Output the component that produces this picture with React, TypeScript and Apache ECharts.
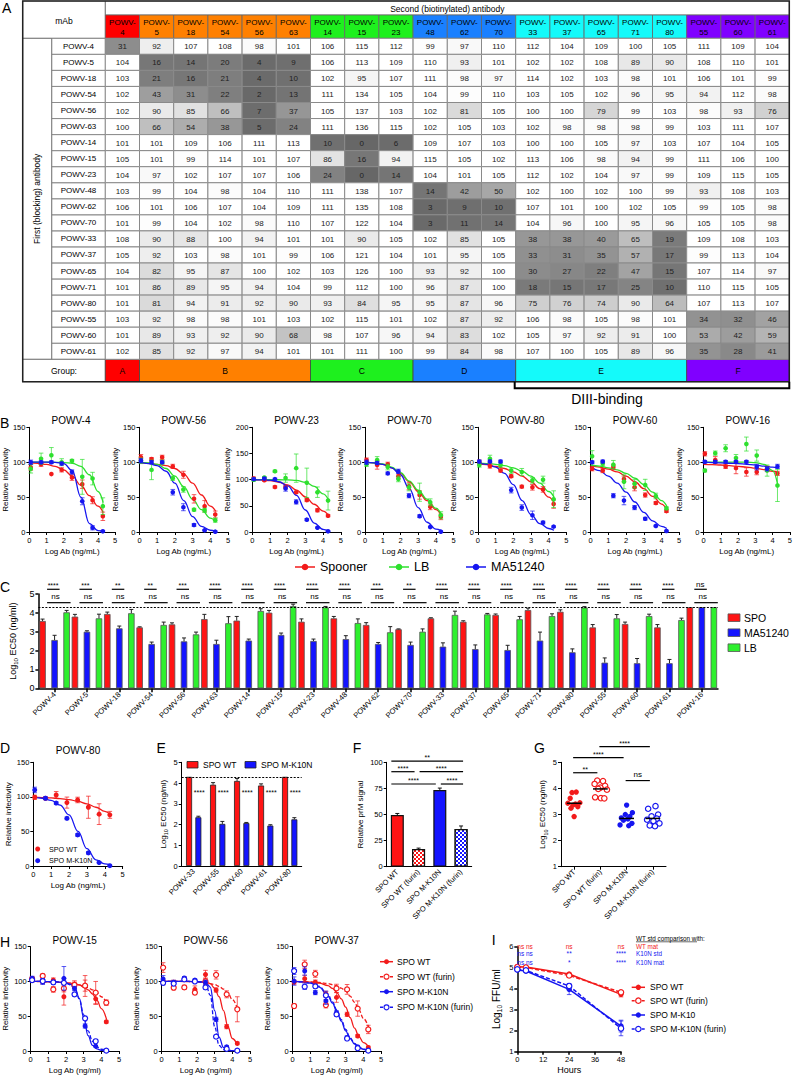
import React, { useEffect, useRef } from 'react';
import * as echarts from 'echarts';

const FONT = '"Liberation Sans", Arial, Helvetica, sans-serif';
const RED = '#f21b1b';
const GREEN = '#2ee02e';
const BLUE = '#1616f0';

/* ---------------- Panel A ---------------- */
const COL_MABS = ['4', '5', '18', '54', '56', '63', '14', '15', '23', '48', '62', '70', '33', '37', '65', '71', '80', '55', '60', '61'];
const ROW_MABS = ['POWV-4', 'POWV-5', 'POWV-18', 'POWV-54', 'POWV-56', 'POWV-63', 'POWV-14', 'POWV-15', 'POWV-23', 'POWV-48', 'POWV-62', 'POWV-70', 'POWV-33', 'POWV-37', 'POWV-65', 'POWV-71', 'POWV-80', 'POWV-55', 'POWV-60', 'POWV-61'];
const GROUP_NAMES = ['A', 'B', 'C', 'D', 'E', 'F'];
const GROUP_SPAN = [1, 5, 3, 3, 5, 3];
const GROUP_COLORS = ['#ff0000', '#ff8000', '#1ef01e', '#1a80ff', '#14fafa', '#8000ff'];
const COMPETITION = [
  [31, 92, 107, 108, 98, 101, 106, 115, 112, 99, 97, 110, 112, 104, 109, 100, 105, 111, 109, 104],
  [104, 16, 14, 20, 4, 9, 106, 113, 109, 110, 93, 101, 102, 102, 108, 89, 90, 108, 110, 101],
  [103, 21, 16, 21, 4, 10, 102, 95, 107, 111, 98, 97, 114, 102, 103, 98, 101, 106, 101, 99],
  [102, 43, 31, 22, 2, 13, 111, 134, 105, 104, 99, 110, 103, 105, 102, 96, 95, 94, 112, 98],
  [102, 90, 85, 66, 7, 37, 105, 137, 103, 102, 81, 105, 100, 100, 79, 99, 103, 98, 93, 76],
  [100, 66, 54, 38, 5, 24, 111, 136, 115, 102, 105, 103, 102, 98, 98, 98, 99, 103, 111, 107],
  [101, 101, 109, 106, 111, 113, 10, 0, 6, 109, 107, 103, 100, 100, 105, 97, 103, 107, 104, 105],
  [105, 101, 99, 114, 101, 107, 86, 16, 94, 115, 105, 102, 113, 106, 98, 94, 99, 111, 106, 100],
  [104, 97, 102, 107, 107, 106, 24, 0, 14, 104, 101, 105, 112, 102, 104, 97, 99, 109, 115, 105],
  [103, 99, 104, 98, 104, 110, 111, 138, 107, 14, 42, 50, 102, 100, 102, 100, 99, 93, 108, 103],
  [106, 101, 106, 107, 104, 109, 111, 135, 108, 3, 9, 10, 107, 101, 100, 102, 105, 99, 105, 98],
  [101, 99, 104, 102, 98, 110, 107, 122, 104, 3, 11, 14, 104, 96, 100, 95, 96, 105, 105, 98],
  [108, 90, 88, 100, 94, 101, 101, 90, 105, 102, 85, 105, 38, 38, 40, 65, 19, 109, 108, 103],
  [105, 92, 103, 98, 101, 99, 106, 121, 104, 101, 95, 105, 33, 31, 35, 57, 17, 99, 113, 104],
  [104, 82, 95, 87, 100, 102, 103, 126, 100, 93, 92, 100, 30, 27, 22, 47, 15, 107, 114, 97],
  [101, 86, 89, 95, 94, 104, 99, 112, 100, 96, 87, 100, 18, 15, 17, 25, 10, 110, 115, 105],
  [101, 81, 94, 91, 92, 90, 93, 84, 95, 95, 87, 96, 75, 76, 74, 90, 64, 107, 113, 107],
  [103, 92, 98, 98, 101, 103, 102, 115, 101, 102, 87, 92, 106, 98, 105, 98, 101, 34, 32, 46],
  [101, 89, 93, 92, 90, 68, 98, 107, 96, 94, 83, 102, 105, 97, 92, 91, 100, 53, 42, 59],
  [102, 85, 92, 97, 94, 101, 101, 111, 100, 99, 84, 98, 107, 100, 105, 89, 96, 35, 28, 41],
];

/* ---------------- Panel B ---------------- */
const DOSE_X = [0.08, 0.68, 1.28, 1.88, 2.48, 3.08, 3.68, 4.28];
const FIT_X = [0, 0.5, 1, 1.5, 2, 2.5, 3, 3.5, 4, 4.3];
const B_TITLES = ['POWV-4', 'POWV-56', 'POWV-23', 'POWV-70', 'POWV-80', 'POWV-60', 'POWV-16'];
const B_YMAX = [150, 150, 200, 150, 150, 150, 150];
const B_SPOONER = [
  [92.5, 97, 83, 89, 78, 68.5, 45.5, 22.5],
  [107, 104.5, 107, 94, 82, 47.5, 37, 25],
  [102, 99, 86, 86, 76, 61, 41.5, 31],
  [103, 96, 97, 80, 65.6, 53, 36, 21.7],
  [100, 94.5, 88, 80, 65, 64, 61, 40],
  [90.6, 88, 93, 76, 64, 53, 41.5, 30],
  [112, 103, 94, 91.5, 86, 86, 90.5, 84],
];
const B_SPOONER_ERR = [
  [4, 3, 0, 3, 4, 6, 5, 6], [4, 2, 3, 3, 5, 6, 8, 5], [3, 2, 2, 2, 2, 3, 3, 2], [3, 6, 3, 3, 5, 6, 4, 4],
  [3, 3, 2, 2, 2, 4, 4, 6], [3, 3, 3, 4, 5, 3, 2, 2], [3, 5, 3, 8, 6, 4, 4, 3],
];
const B_SPOONER_FIT = [
  [99, 98.5, 97, 94, 89, 80, 67, 52, 37, 28],
  [99, 98.5, 97, 95, 91, 83, 70, 53, 37, 30],
  [100, 99.5, 98, 95, 90, 80, 67, 53, 40, 32],
  [100, 99, 97, 92, 84, 72, 58, 45, 32, 24],
  [98, 96.5, 94, 91, 86, 80, 72, 62, 50, 42],
  [95, 93, 90, 86, 80, 72, 62, 51, 40, 32],
  [97, 96.5, 96, 95, 94, 93, 91.5, 89.5, 87, 85],
];
const B_LB = [
  [90.5, 105, 110, 100, 102, 79, 76.5, 37],
  [102, 89, 100, 77, 61, 32, 31, 17],
  [100, 104, 116, 103, 122, 94, 76, 60],
  [97, 103, 93, 76, 64, 57, 42.5, 24],
  [96, 105, 96, 88, 86, 74, 75, 47],
  [108.5, 98, 96.5, 72, 69, 67.5, 51.6, 34],
  [88, 113, 120, 106, 126, 109.5, 88, 66.7],
];
const B_LB_ERR = [
  [6, 8, 11, 5, 2, 25, 9, 12], [4, 14, 3, 3, 4, 2, 3, 3], [3, 2, 2, 8, 27, 28, 10, 18], [3, 5, 4, 4, 5, 13, 5, 5],
  [3, 5, 3, 4, 5, 4, 5, 12], [8, 3, 6, 10, 6, 8, 4, 2], [2, 3, 5, 5, 10, 8, 8, 23],
];
const B_LB_FIT = [
  [100, 100, 100, 99.8, 99.5, 98.5, 94, 82, 58, 42],
  [100, 99, 97, 91, 80, 65, 47, 32, 20, 15],
  [100, 100, 100, 99.8, 99.5, 98.5, 95, 87, 73, 62],
  [100, 99, 97.5, 93, 85, 73, 60, 47, 34, 26],
  [99, 98, 97, 95, 92, 87, 80, 70, 58, 50],
  [96, 94.5, 92, 89, 84, 77, 68, 57, 45, 37],
  [100, 100, 100, 100, 100, 100, 99.5, 97, 88, 67],
];
const B_MA = [
  [100, 100, 100, 98, 86, 44, 6, 1],
  [102, 100, 100, 57, 35.5, 10, 2.4, 0.5],
  [101, 102, 101, 83, 57.5, 23.6, 8.3, 1.3],
  [100, 99, 84, 87, 52, 22.7, 7, 0.5],
  [101, 101, 101, 60, 35, 24, 13.5, 7.7],
  [100, 101, 52, 45, 35, 19, 8.7, 1.4],
  [100.5, 100.5, 100.5, 100.5, 100.5, 93, 90.5, 94],
];
const B_MA_ERR = [
  [3, 2, 2, 2, 3, 5, 3, 1], [3, 2, 2, 4, 5, 2, 1, 1], [2, 2, 2, 5, 4, 2, 1, 1], [3, 2, 2, 3, 3, 2, 1, 1],
  [2, 2, 2, 4, 4, 6, 2, 1], [2, 2, 3, 6, 3, 2, 1, 1], [2, 2, 2, 2, 2, 4, 3, 3],
];
const B_MA_FIT = [
  [100, 100, 100, 99.8, 98, 88, 50, 12, 2, 0.5],
  [100, 98, 95, 87, 70, 45, 22, 8, 2.5, 1],
  [100, 99.5, 99, 96, 88, 70, 42, 17, 5, 2],
  [100, 99, 97, 92, 82, 62, 35, 14, 4, 2],
  [99, 97, 93, 84, 68, 45, 25, 12, 5, 2.5],
  [94, 88, 80, 70, 57, 43, 28, 16, 8, 5],
  [100, 99.5, 99, 98.5, 98, 97, 96, 94.5, 93, 92],
];

/* ---------------- Panel C ---------------- */
const C_CATS = ['POWV-4', 'POWV-5', 'POWV-18', 'POWV-54', 'POWV-56', 'POWV-63', 'POWV-14', 'POWV-15', 'POWV-23', 'POWV-48', 'POWV-62', 'POWV-70', 'POWV-33', 'POWV-37', 'POWV-65', 'POWV-71', 'POWV-80', 'POWV-55', 'POWV-60', 'POWV-61', 'POWV-16'];
const C_SPO = [3.57, 3.80, 3.94, 3.23, 3.39, 3.67, 3.59, 4.01, 3.53, 3.71, 3.36, 3.13, 3.71, 3.53, 3.89, 4.15, 4.06, 3.23, 3.41, 3.23, 4.30];
const C_MA = [2.56, 3.00, 3.18, 2.35, 2.49, 2.35, 2.53, 2.83, 2.51, 2.61, 2.35, 2.30, 2.21, 2.08, 2.03, 2.53, 1.91, 1.36, 1.33, 1.33, 4.30];
const C_LB = [4.03, 3.71, 3.98, 3.36, 2.86, 3.45, 4.10, 4.36, 4.29, 3.46, 2.97, 3.00, 3.89, 3.92, 3.66, 3.83, 4.28, 3.71, 3.83, 3.62, 4.30];
const C_SPO_ERR = [0.1, 0.12, 0.1, 0.03, 0.08, 0.25, 0.22, 0.12, 0.15, 0.1, 0.12, 0.02, 0.03, 0.05, 0.05, 0.1, 0.1, 0.15, 0.1, 0.15, 0];
const C_MA_ERR = [0.25, 0.05, 0.12, 0.1, 0.18, 0.2, 0.08, 0.1, 0.1, 0.18, 0.08, 0.15, 0.2, 0.22, 0.25, 0.45, 0.18, 0.25, 0.25, 0.2, 0];
const C_LB_ERR = [0.1, 0.22, 0.2, 0.15, 0.12, 0.35, 0.12, 0.1, 0.05, 0.22, 0.3, 0.15, 0.2, 0.05, 0.15, 0.12, 0.05, 0.2, 0.1, 0.1, 0];
const C_SIG_MA = ['****', '***', '**', '**', '***', '****', '****', '****', '****', '****', '***', '**', '****', '****', '****', '****', '****', '****', '****', '****', 'ns'];
const C_SIG_LB = ['ns', 'ns', 'ns', 'ns', 'ns', 'ns', 'ns', 'ns', 'ns', 'ns', 'ns', 'ns', 'ns', 'ns', 'ns', 'ns', 'ns', 'ns', 'ns', 'ns', 'ns'];
const C_LIMIT = 4.3;

/* ---------------- Panel D ---------------- */
const D_WT = [99.4, 98, 102.7, 91.7, 95.5, 85, 75, 74];
const D_WT_ERR = [3, 2, 5, 8, 4, 16, 15, 5];
const D_WT_FIT = [99.5, 99, 98.5, 97.5, 96, 93.5, 90, 85, 79, 75];
const D_K10N = [110, 98, 91, 69, 45, 19, 5, 0.5];
const D_K10N_ERR = [4, 2, 2, 2, 2, 2, 1, 1];
const D_K10N_FIT = [99.5, 98, 95, 88, 74, 50, 25, 9, 3, 1.5];

/* ---------------- Panel E ---------------- */
const E_CATS = ['POWV-33', 'POWV-55', 'POWV-60', 'POWV-61', 'POWV-80'];
const E_WT = [4.3, 3.92, 4.1, 3.88, 4.3];
const E_WT_ERR = [0, 0.1, 0.12, 0.08, 0];
const E_K10N = [2.35, 2.03, 2.07, 1.95, 2.25];
const E_K10N_ERR = [0.05, 0.12, 0.03, 0.04, 0.08];
const E_SIG = ['****', '****', '****', '****', '****'];

/* ---------------- Panel F ---------------- */
const FG_CATS = ['SPO WT', 'SPO WT (furin)', 'SPO M-K10N', 'SPO M-K10N (furin)'];
const F_VALUES = [49.5, 17, 73.5, 36];
const F_ERR = [1.5, 0.8, 1.8, 3];
const F_SIG_FROM = [0, 0, 1, 0, 2];
const F_SIG_TO = [3, 1, 3, 2, 3];
const F_SIG_Y = [101.2, 91, 91, 79.2, 79.2];
const F_SIG_TEXT = ['**', '****', '****', '****', '****'];

/* ---------------- Panel G ---------------- */
const G_WT = [3.86, 3.84, 3.62, 3.45, 3.43, 3.40, 3.36, 3.30, 3.24, 2.92];
const G_WT_JIT = [0.08, -0.08, -0.15, 0.22, -0.24, 0.05, -0.05, 0.14, -0.12, 0.0];
const G_WTF = [4.30, 4.28, 4.17, 4.10, 4.03, 3.98, 3.95, 3.66, 3.63, 3.62];
const G_WTF_JIT = [-0.12, 0.1, -0.22, 0.18, 0.0, -0.08, 0.25, -0.2, 0.02, 0.15];
const G_K = [3.36, 3.07, 3.0, 2.92, 2.87, 2.83, 2.78, 2.66, 2.60, 2.57];
const G_K_JIT = [0.0, 0.22, -0.05, 0.12, -0.2, 0.05, -0.12, 0.2, -0.25, 0.08];
const G_KF = [3.32, 3.22, 3.0, 2.93, 2.84, 2.80, 2.75, 2.66, 2.58, 2.55];
const G_KF_JIT = [0.1, -0.18, 0.2, -0.05, 0.15, -0.22, 0.02, 0.25, -0.12, 0.08];
const G_MEDIAN = [3.43, 3.98, 2.85, 2.85];
const G_SIG_FROM = [1, 0, 0, 2];
const G_SIG_TO = [3, 2, 1, 3];
const G_SIG_Y = [5.6, 5.18, 4.6, 4.3];
const G_SIG_TEXT = ['****', '****', '**', 'ns'];

/* ---------------- Panel H ---------------- */
const FIT_XH = [0, 0.5, 1, 1.5, 2, 2.25, 2.5, 2.75, 3, 3.25, 3.5, 3.75, 4, 4.3];
const H_TITLES = ['POWV-15', 'POWV-56', 'POWV-37'];
const H_WT = [[103.5, 99.7, 102, 78, 96, 93.5, 75, 42], [98.7, 98.7, 103.5, 88.6, 110, 87.7, 35, 11], [99, 104, 99, 82, 77, 52.7, 21.6, 5]];
const H_WT_ERR = [[3, 3, 3, 12, 5, 15, 8, 2], [3, 3, 3, 5, 6, 3, 3, 2], [3, 5, 3, 4, 7, 3, 2, 2]];
const H_WT_FIT = [
  [100, 100, 99.5, 99, 98, 97.5, 96.5, 95, 92, 88, 82, 73, 61, 45],
  [100, 100, 100, 100, 99.8, 99.5, 99, 97, 90, 78, 58, 35, 18, 8],
  [100, 99.8, 99, 97.5, 94, 90, 84, 75, 63, 48, 33, 21, 12, 6],
];
const H_WTF = [[103.5, 108, 88.6, 90, 95, 94, 84, 69.5], [120, 91, 91.5, 84, 100, 109.5, 81.5, 60], [64.7, 124.6, 111, 66, 90, 88.6, 61, 31]];
const H_WTF_ERR = [[3, 3, 4, 5, 4, 8, 16, 4], [7, 3, 3, 3, 5, 6, 5, 18], [3, 6, 5, 4, 6, 7, 11, 6]];
const H_WTF_FIT = [
  [100, 99.8, 99.5, 99, 98, 97.5, 96.5, 95, 93, 91, 88, 84, 78, 69],
  [100, 100, 100, 99.8, 99.5, 99, 98.5, 97, 95.5, 93, 89, 83, 74, 60],
  [100, 99.8, 99.5, 98.5, 97, 95.5, 93.5, 90.5, 86, 79, 70, 59, 47, 34],
];
const H_K = [[104.5, 99.7, 98.7, 104.5, 90, 36, 7, 0.5], [103.5, 98.7, 105, 102, 98.7, 45.5, 6, 0.5], [100.6, 115, 84, 72, 55, 19, 6, 0.5]];
const H_K_ERR = [[3, 4, 3, 17, 3, 3, 1, 1], [5, 3, 2, 2, 3, 3, 2, 1], [6, 6, 3, 5, 3, 3, 2, 1]];
const H_K_FIT = [
  [100, 100, 99.8, 99.5, 98, 96, 91, 76, 48, 22, 8, 3, 1, 0.5],
  [100, 100, 100, 100, 99.8, 99.5, 98, 92, 58, 20, 5, 1.5, 0.5, 0.2],
  [100, 99.5, 97.5, 92, 79, 69, 57, 43, 29, 18, 10, 5, 2.5, 1],
];
const H_KF = [[102, 100.6, 98.7, 98, 81.5, 47, 14, 0.5], [98, 97, 103, 100, 91.5, 20.6, 3, 0.5], [115, 92.5, 93, 80, 52.7, 18, 4, 0.5]];
const H_KF_ERR = [[3, 3, 2, 3, 3, 3, 2, 1], [3, 3, 2, 2, 3, 2, 1, 1], [5, 4, 3, 6, 3, 2, 1, 1]];
const H_KF_FIT = [
  [100, 100, 99.8, 99.3, 97.5, 95, 89, 75, 52, 29, 14, 6, 2.5, 1],
  [100, 100, 100, 100, 99.5, 99, 96, 80, 35, 8, 2, 0.5, 0.2, 0.1],
  [100, 99.5, 98, 93, 81, 71, 59, 45, 31, 19, 11, 5.5, 2.5, 1],
];
const H_LEGEND = ['SPO WT', 'SPO WT (furin)', 'SPO M-K10N', 'SPO M-K10N (furin)'];

/* ---------------- Panel I ---------------- */
const I_HOURS = [0, 4, 24, 48];
const I_WT = [5.05, 5.03, 4.70, 3.73];
const I_WT_ERR = [0.03, 0.03, 0.05, 0.12];
const I_WTF = [5.03, 5.01, 4.63, 3.83];
const I_WTF_ERR = [0.03, 0.03, 0.05, 0.08];
const I_K = [4.89, 4.84, 3.97, 2.22];
const I_K_ERR = [0.05, 0.04, 0.25, 0.28];
const I_KF = [4.92, 4.87, 4.13, 2.11];
const I_KF_ERR = [0.04, 0.04, 0.08, 0.35];
const I_LEGEND = ['SPO WT', 'SPO WT (furin)', 'SPO M-K10', 'SPO M-K10N (furin)'];
const I_SIG_ROWS = [['ns', 'ns', 'ns', 'ns'], ['ns', 'ns', '**', '****'], ['ns', 'ns', '*', '****']];
const I_SIG_LABELS = ['WT mat', 'K10N std', 'K10N mat'];

/* ---------------- helpers ---------------- */
function gray(v: number) {
  const stops = [[0, 103], [10, 112], [20, 124], [30, 140], [40, 154], [50, 167], [60, 181], [70, 198], [80, 216], [90, 234], [100, 255]];
  const x = Math.max(0, Math.min(100, v));
  for (let i = 1; i < stops.length; i++) {
    if (x <= stops[i][0]) {
      const [x0, c0] = stops[i - 1];
      const [x1, c1] = stops[i];
      const c = Math.round(c0 + ((c1 - c0) * (x - x0)) / (x1 - x0));
      return `rgb(${c},${c},${c})`;
    }
  }
  return '#ffffff';
}

function T(x: number, y: number, text: string, size: number, o: any = {}) {
  const style: any = {
    text, fill: o.color || '#000', fontSize: size, fontFamily: FONT, fontWeight: o.weight || 'normal',
    textAlign: o.align || 'center', textVerticalAlign: o.valign || 'middle',
    align: o.align || 'center', verticalAlign: o.valign || 'middle',
  };
  if (o.lineHeight) style.lineHeight = o.lineHeight;
  return { type: 'text', x, y, z: o.z ?? 30, rotation: o.rotation || 0, silent: true, style };
}
function R(x: number, y: number, w: number, h: number, fill: string, stroke: string, lw = 0.8, z = 1) {
  return { type: 'rect', shape: { x, y, width: w, height: h }, z, silent: true, style: { fill, stroke, lineWidth: lw } };
}
function L(x1: number, y1: number, x2: number, y2: number, stroke = '#000', lw = 1, dash: any = null, z = 20) {
  return { type: 'line', shape: { x1, y1, x2, y2 }, z, silent: true, style: { stroke, lineWidth: lw, lineDash: dash } };
}

function buildOption(): any {
  const grid: any[] = [];
  const xAxis: any[] = [];
  const yAxis: any[] = [];
  const series: any[] = [];
  const graphic: any[] = [];

  const addGrid = (left: number, top: number, width: number, height: number) => {
    grid.push({ left, top, width, height, containLabel: false });
    return grid.length - 1;
  };
  const addX = (o: any) => { xAxis.push(o); return xAxis.length - 1; };
  const addY = (o: any) => { yAxis.push(o); return yAxis.length - 1; };

  const logRich = (size: number) => ({
    a: { fontSize: size, fontFamily: FONT, color: '#000' },
    s: { fontSize: size * 0.68, fontFamily: FONT, color: '#000', padding: [6, 0, 0, 0] },
  });
  const LOG10_EC50 = '{a|Log}{s|10}{a| EC50 (ng/ml)}';

  function vAxis(gi: number, min: number, max: number, interval: number, name: string, nameGap: number, o: any = {}) {
    return {
      type: 'value', gridIndex: gi, min, max, interval, name, nameLocation: 'middle', nameGap,
      nameTextStyle: { color: '#000', fontSize: o.nameSize || 8, fontFamily: FONT, rich: o.rich },
      axisLine: { show: true, onZero: false, lineStyle: { color: '#000', width: o.lw || 1 } },
      axisTick: { show: true, length: 3, lineStyle: { color: '#000', width: o.lw || 1 } },
      axisLabel: { color: '#000', fontSize: o.labelSize || 7.5, fontFamily: FONT, margin: o.margin ?? 4 },
      splitLine: { show: false },
    };
  }
  function cAxis(gi: number, data: string[], o: any = {}) {
    return {
      type: 'category', gridIndex: gi, data,
      axisLine: { show: true, lineStyle: { color: '#000', width: o.lw || 1 } },
      axisTick: { show: o.tick !== false, alignWithLabel: true, length: o.tickLen || 3, lineStyle: { color: '#000', width: o.lw || 1 } },
      axisLabel: { color: '#000', fontSize: o.labelSize || 7.5, fontFamily: FONT, rotate: 45, interval: 0, margin: o.margin ?? 4 },
      splitLine: { show: false },
    };
  }
  const curve = (xi: number, yi: number, xs: number[], ys: number[], color: string, dashed = false) => ({
    type: 'line', xAxisIndex: xi, yAxisIndex: yi, data: xs.map((x, i) => [x, ys[i]]),
    smooth: 0.4, smoothMonotone: 'x', symbol: 'none', showSymbol: false, silent: true, z: 3,
    lineStyle: { color, width: 1.3, type: dashed ? [4, 2] : 'solid' },
  });
  const points = (xi: number, yi: number, xs: number[], ys: number[], errs: number[] | null, color: string, open: boolean, r: number) => ({
    type: 'custom', xAxisIndex: xi, yAxisIndex: yi, clip: false, silent: true, z: 4,
    data: xs.map((x, i) => [x, ys[i], errs ? errs[i] : 0]),
    renderItem: (params: any, api: any) => {
      const x = api.value(0), y = api.value(1), e = api.value(2);
      const c = api.coord([x, y]);
      const ch: any[] = [];
      if (e > 0) {
        const hi = api.coord([x, y + e])[1];
        const lo = api.coord([x, y - e])[1];
        const st = { stroke: color, lineWidth: 1, opacity: 0.7 };
        ch.push({ type: 'line', shape: { x1: c[0], y1: hi, x2: c[0], y2: lo }, style: st });
        ch.push({ type: 'line', shape: { x1: c[0] - 2.3, y1: hi, x2: c[0] + 2.3, y2: hi }, style: st });
        ch.push({ type: 'line', shape: { x1: c[0] - 2.3, y1: lo, x2: c[0] + 2.3, y2: lo }, style: st });
      }
      ch.push({
        type: 'circle', shape: { cx: c[0], cy: c[1], r },
        style: open ? { fill: '#fff', stroke: color, lineWidth: 1.2 } : { fill: color },
      });
      return { type: 'group', children: ch };
    },
  });
  const barErr = (xi: number, yi: number, vals: number[], errs: number[], offset: number, color = '#222') => ({
    type: 'custom', xAxisIndex: xi, yAxisIndex: yi, clip: false, silent: true, z: 5,
    data: vals.map((v, i) => [i, v, errs[i]]),
    renderItem: (params: any, api: any) => {
      const i = api.value(0), v = api.value(1), e = api.value(2);
      if (!(e > 0)) return { type: 'group', children: [] };
      const b = api.coord([i, v]);
      const t = api.coord([i, v + e]);
      const x = b[0] + offset;
      return {
        type: 'group', children: [
          { type: 'line', shape: { x1: x, y1: b[1], x2: x, y2: t[1] }, style: { stroke: color, lineWidth: 1 } },
          { type: 'line', shape: { x1: x - 2, y1: t[1], x2: x + 2, y2: t[1] }, style: { stroke: color, lineWidth: 1 } },
        ],
      };
    },
  });
  const dotted = (v: number) => ({
    silent: true, symbol: 'none', label: { show: false },
    lineStyle: { type: [2, 1.5], color: '#000', width: 1 }, data: [{ yAxis: v }],
  });
  const legendLine = (x: number, y: number, len: number, color: string, dashed: boolean, open: boolean, r: number, label: string, size: number, gap = 5) => {
    graphic.push(L(x, y, x + len, y, color, 1.5, dashed ? [3, 2] : null, 25));
    graphic.push({
      type: 'circle', shape: { cx: x + len / 2, cy: y, r }, z: 26, silent: true,
      style: open ? { fill: '#fff', stroke: color, lineWidth: 1.2 } : { fill: color },
    });
    graphic.push(T(x + len + gap, y, label, size, { align: 'left' }));
  };

  /* ================= A: table ================= */
  const TL = 22.7, TT = 1, LX = 51.7, DX = 105.3, CW = 34.2, H1 = 15, H2 = 38.3, RH = 16.05;
  const TR = DX + 20 * CW;
  const GT = H2 + 20 * RH;
  const GB = 381.7;
  const gA = addGrid(DX, H2, 20 * CW, 20 * RH);
  const xA = addX({ type: 'category', gridIndex: gA, data: COL_MABS, show: false });
  const yA = addY({
    type: 'category', gridIndex: gA, data: ROW_MABS, inverse: true,
    axisLine: { show: false }, axisTick: { show: false }, splitLine: { show: false },
    axisLabel: { color: '#000', fontSize: 8, fontFamily: FONT, margin: (DX - LX) / 2, align: 'center' },
  });
  const cells: any[] = [];
  COMPETITION.forEach((row, r) => row.forEach((v, c) => cells.push([c, r, v])));
  series.push({
    type: 'custom', xAxisIndex: xA, yAxisIndex: yA, data: cells, z: 2, silent: true,
    renderItem: (params: any, api: any) => {
      const c = api.value(0), r = api.value(1), v = api.value(2);
      const p = api.coord([c, r]);
      const s = api.size([1, 1]);
      return {
        type: 'group', children: [
          { type: 'rect', shape: { x: p[0] - s[0] / 2, y: p[1] - s[1] / 2, width: s[0], height: s[1] }, style: { fill: gray(v), stroke: '#8a8a8a', lineWidth: 1 } },
          { type: 'text', x: p[0], y: p[1] + 0.5, style: { text: String(v), fill: '#222', fontSize: 8, fontFamily: FONT, align: 'center', verticalAlign: 'middle' } },
        ],
      };
    },
  });
  // header
  graphic.push(R(DX, TT, TR - DX, H1 - TT, 'none', '#777'));
  graphic.push(T((DX + TR) / 2, (TT + H1) / 2 + 0.5, 'Second (biotinylated) antibody', 8.5));
  graphic.push(R(TL, TT, DX - TL, H2 - TT, 'none', '#777'));
  graphic.push(T((TL + DX) / 2, 20.5, 'mAb', 8.5));
  const colGroup: number[] = [];
  GROUP_SPAN.forEach((n, gI) => { for (let j = 0; j < n; j++) colGroup.push(gI); });
  COL_MABS.forEach((m, i) => {
    const x = DX + i * CW;
    graphic.push(R(x, H1, CW, H2 - H1, GROUP_COLORS[colGroup[i]], '#666', 0.8, 2));
    graphic.push(T(x + CW / 2, (H1 + H2) / 2 + 0.5, 'POWV-\n' + m, 8, { lineHeight: 10 }));
  });
  ROW_MABS.forEach((_, r) => graphic.push(R(LX, H2 + r * RH, DX - LX, RH, 'none', '#888')));
  graphic.push(R(TL, H2, LX - TL, 20 * RH, 'none', '#777'));
  graphic.push(T(36.5, (H2 + GT) / 2, 'First (blocking) antibody', 8.5, { rotation: Math.PI / 2 }));
  graphic.push(R(TL, GT, DX - TL, GB - GT, 'none', '#777'));
  graphic.push(T((TL + DX) / 2, (GT + GB) / 2, 'Group:', 8.5));
  let start = 0;
  GROUP_SPAN.forEach((n, gI) => {
    const x = DX + start * CW;
    graphic.push(R(x, GT, n * CW, GB - GT, GROUP_COLORS[gI], '#444', 0.8, 2));
    graphic.push(T(x + (n * CW) / 2, (GT + GB) / 2, GROUP_NAMES[gI], 8.5));
    start += n;
  });
  graphic.push(R(TL, TT, TR - TL, GB - TT, 'none', '#222', 1.5, 40));
  graphic.push({
    type: 'polyline', z: 40, silent: true,
    shape: { points: [[DX + 12 * CW - 1, GB], [DX + 12 * CW - 1, GB + 6.5], [TR, GB + 6.5], [TR, GB]] },
    style: { stroke: '#000', lineWidth: 2, fill: 'none' },
  });
  graphic.push(T(607, 398.5, 'DIII-binding', 14));

  /* ================= B ================= */
  B_TITLES.forEach((title, k) => {
    const left = 26.7 + k * 112.8;
    const gi = addGrid(left, 427.3, 88.5, 104.7);
    const xi = addX(vAxis(gi, 0, 5, 1, 'Log Ab (ng/mL)', 15.5));
    const yi = addY(vAxis(gi, 0, B_YMAX[k], 50, 'Relative infectivity', 17));
    const sets: any[] = [
      [B_SPOONER_FIT[k], B_SPOONER[k], B_SPOONER_ERR[k], RED],
      [B_LB_FIT[k], B_LB[k], B_LB_ERR[k], GREEN],
      [B_MA_FIT[k], B_MA[k], B_MA_ERR[k], BLUE],
    ];
    sets.forEach(([fit, pts, err, col]) => {
      series.push(curve(xi, yi, FIT_X, fit, col));
      series.push(points(xi, yi, DOSE_X, pts, err, col, false, 2.3));
    });
    graphic.push(T(left + 44.3, 420, title, 10));
  });
  legendLine(295, 567, 20, RED, false, false, 3.3, 'Spooner', 12.5);
  legendLine(389, 567, 20, GREEN, false, false, 3.3, 'LB', 12.5);
  legendLine(466, 567, 20, BLUE, false, false, 3.3, 'MA51240', 12.5);

  /* ================= C ================= */
  const gC = addGrid(29.3, 594, 688.7, 94.3);
  const xC = addX(cAxis(gC, C_CATS, { lw: 1.5, tickLen: 4, labelSize: 7.5, margin: 5 }));
  const yC = addY(vAxis(gC, 0, 5, 1, LOG10_EC50, 17, { lw: 1.5, labelSize: 9, rich: logRich(9) }));
  const CBW = 6.5, CGAP = 0.85;
  const cOff = CBW * (1 + CGAP);
  const barStyle = (color: string) => ({ color, borderColor: '#555', borderWidth: 0.8 });
  series.push({ type: 'bar', xAxisIndex: xC, yAxisIndex: yC, data: C_SPO, barWidth: CBW, barGap: '85%', itemStyle: barStyle('#ff1414'), z: 2, markLine: dotted(C_LIMIT) });
  series.push({ type: 'bar', xAxisIndex: xC, yAxisIndex: yC, data: C_MA, barWidth: CBW, barGap: '85%', itemStyle: barStyle('#1414ff'), z: 2 });
  series.push({ type: 'bar', xAxisIndex: xC, yAxisIndex: yC, data: C_LB, barWidth: CBW, barGap: '85%', itemStyle: barStyle('#2ef02e'), z: 2 });
  series.push(barErr(xC, yC, C_SPO, C_SPO_ERR, -cOff));
  series.push(barErr(xC, yC, C_MA, C_MA_ERR, 0));
  series.push(barErr(xC, yC, C_LB, C_LB_ERR, cOff));
  series.push({
    type: 'custom', xAxisIndex: xC, yAxisIndex: yC, clip: false, silent: true, z: 6,
    data: C_CATS.map((_, i) => [i, 5]),
    renderItem: (params: any, api: any) => {
      const i = params.dataIndex;
      const cx = api.coord([i, 0])[0];
      const y1 = api.coord([i, 5.53])[1], y2 = api.coord([i, 5.25])[1], y3 = api.coord([i, 4.88])[1], y4 = api.coord([i, 4.54])[1];
      const ts = (t: string, x: number, y: number, size: number) => ({
        type: 'text', x, y, style: { text: t, fill: '#000', fontSize: size, fontFamily: FONT, align: 'center', verticalAlign: 'middle' },
      });
      return {
        type: 'group', children: [
          ts(C_SIG_MA[i], cx - 1.5, y1 + (C_SIG_MA[i] === 'ns' ? 0 : 1.5), C_SIG_MA[i] === 'ns' ? 8 : 7),
          { type: 'line', shape: { x1: cx - 7.5, y1: y2, x2: cx + 5, y2 }, style: { stroke: '#000', lineWidth: 1.2 } },
          ts(C_SIG_LB[i], cx + 1, y3, 8),
          { type: 'line', shape: { x1: cx - 7.5, y1: y4, x2: cx + 16, y2: y4 }, style: { stroke: '#000', lineWidth: 1.2 } },
        ],
      };
    },
  });
  [['SPO', '#ff1414'], ['MA51240', '#1414ff'], ['LB', '#2ef02e']].forEach(([name, col], i) => {
    const y = 617.7 + i * 15;
    graphic.push(R(728, y - 3.8, 12, 7.6, col, '#555', 0.8, 25));
    graphic.push(T(744, y, name, 10.5, { align: 'left' }));
  });

  /* ================= D ================= */
  const gD = addGrid(33.3, 762.3, 89.4, 103.7);
  const xD = addX(vAxis(gD, 0, 5, 1, 'Log Ab (ng/mL)', 15.5));
  const yD = addY(vAxis(gD, 0, 150, 50, 'Relative infectivity', 20));
  series.push(curve(xD, yD, FIT_X, D_WT_FIT, RED));
  series.push(points(xD, yD, DOSE_X, D_WT, D_WT_ERR, RED, false, 2.5));
  series.push(curve(xD, yD, FIT_X, D_K10N_FIT, BLUE));
  series.push(points(xD, yD, DOSE_X, D_K10N, D_K10N_ERR, BLUE, false, 2.5));
  graphic.push(T(78, 750, 'POWV-80', 10));
  graphic.push({ type: 'circle', shape: { cx: 37.7, cy: 849, r: 2.5 }, z: 26, silent: true, style: { fill: RED } });
  graphic.push(T(49, 849, 'SPO WT', 7.2, { align: 'left' }));
  graphic.push({ type: 'circle', shape: { cx: 37.7, cy: 860.7, r: 2.5 }, z: 26, silent: true, style: { fill: BLUE } });
  graphic.push(T(49, 860.7, 'SPO M-K10N', 7.2, { align: 'left' }));

  /* ================= E ================= */
  const gE = addGrid(181.7, 762.3, 120, 103.7);
  const xE = addX(cAxis(gE, E_CATS, { tick: false }));
  const yE = addY(vAxis(gE, 0, 5, 1, LOG10_EC50, 13, { rich: logRich(8) }));
  const EBW = 6, EGAP = 0.55;
  const eOff = (EBW * (1 + EGAP)) / 2;
  series.push({ type: 'bar', xAxisIndex: xE, yAxisIndex: yE, data: E_WT, barWidth: EBW, barGap: '55%', itemStyle: { color: '#ff1414', borderColor: '#222', borderWidth: 0.8 }, z: 2, markLine: dotted(C_LIMIT) });
  series.push({ type: 'bar', xAxisIndex: xE, yAxisIndex: yE, data: E_K10N, barWidth: EBW, barGap: '55%', itemStyle: { color: '#1414ff', borderColor: '#222', borderWidth: 0.8 }, z: 2 });
  series.push(barErr(xE, yE, E_WT, E_WT_ERR, -eOff));
  series.push(barErr(xE, yE, E_K10N, E_K10N_ERR, eOff));
  series.push({
    type: 'custom', xAxisIndex: xE, yAxisIndex: yE, clip: false, silent: true, z: 6,
    data: E_SIG.map((_, i) => [i, 3.55]),
    renderItem: (params: any, api: any) => {
      const p = api.coord([api.value(0), api.value(1)]);
      return { type: 'text', x: p[0] + 5.5, y: p[1], style: { text: E_SIG[params.dataIndex], fill: '#000', fontSize: 7, fontFamily: FONT, align: 'center', verticalAlign: 'middle' } };
    },
  });
  graphic.push(R(187, 761.5, 11, 6.5, '#ff1414', '#222', 0.8, 25));
  graphic.push(T(203, 765, 'SPO WT', 8.5, { align: 'left' }));
  graphic.push(R(245, 761.5, 11, 6.5, '#1414ff', '#222', 0.8, 25));
  graphic.push(T(261, 765, 'SPO M-K10N', 8.5, { align: 'left' }));

  /* ================= F ================= */
  const gF = addGrid(386.7, 762.3, 85, 104.4);
  const xF = addX(cAxis(gF, FG_CATS, { tick: false }));
  const yF = addY(vAxis(gF, 0, 100, 25, 'Relative prM signal', 22));
  const CHECK = { symbol: 'rect', symbolSize: 1, color: '#ffffff', dashArrayX: [[2, 2], [0, 2, 2, 0]], dashArrayY: [2, 0], rotation: 0 };
  const F_COLORS = ['#ff1414', '#ff1414', '#1414ff', '#1414ff'];
  series.push({
    type: 'bar', xAxisIndex: xF, yAxisIndex: yF, barWidth: 13, z: 2,
    data: F_VALUES.map((v, i) => ({ value: v, itemStyle: { color: F_COLORS[i], borderColor: '#111', borderWidth: 1.2, decal: i % 2 === 1 ? CHECK : undefined } })),
  });
  series.push(barErr(xF, yF, F_VALUES, F_ERR, 0, '#111'));
  series.push({
    type: 'custom', xAxisIndex: xF, yAxisIndex: yF, clip: false, silent: true, z: 6,
    data: F_SIG_FROM.map((a, i) => [a, F_SIG_Y[i]]),
    renderItem: (params: any, api: any) => {
      const k = params.dataIndex;
      const a = F_SIG_FROM[k], b = F_SIG_TO[k];
      const pa = api.coord([a, F_SIG_Y[k]]);
      const pb = api.coord([b, F_SIG_Y[k]]);
      const x1 = pa[0] + (a === 0 ? -6 : 1);
      const x2 = pb[0] + (b === 3 ? 2 : -4);
      return {
        type: 'group', children: [
          { type: 'line', shape: { x1, y1: pa[1], x2, y2: pa[1] }, style: { stroke: '#000', lineWidth: 1.2 } },
          { type: 'text', x: (x1 + x2) / 2, y: pa[1] - 3.5, style: { text: F_SIG_TEXT[k], fill: '#000', fontSize: 7, fontFamily: FONT, align: 'center', verticalAlign: 'middle' } },
        ],
      };
    },
  });

  /* ================= G ================= */
  const gG = addGrid(561, 762.3, 105, 104.4);
  const xG = addX(cAxis(gG, FG_CATS));
  const xG2 = addX({ type: 'value', gridIndex: gG, min: 0, max: 4, show: false });
  const yG = addY(vAxis(gG, 1, 5, 1, LOG10_EC50, 13, { rich: logRich(8) }));
  const gSets: any[] = [[G_WT, G_WT_JIT, RED, false], [G_WTF, G_WTF_JIT, RED, true], [G_K, G_K_JIT, BLUE, false], [G_KF, G_KF_JIT, BLUE, true]];
  gSets.forEach(([vals, jit, col, open], ci) => {
    series.push(points(xG2, yG, jit.map((j: number) => ci + 0.5 + j), vals, null, col, open, 2.7));
  });
  series.push({
    type: 'custom', xAxisIndex: xG2, yAxisIndex: yG, clip: false, silent: true, z: 5,
    data: G_MEDIAN.map((m, i) => [i + 0.5, m]),
    renderItem: (params: any, api: any) => {
      const a = api.coord([api.value(0) - 0.28, api.value(1)]);
      const b = api.coord([api.value(0) + 0.28, api.value(1)]);
      return { type: 'line', shape: { x1: a[0], y1: a[1], x2: b[0], y2: b[1] }, style: { stroke: '#000', lineWidth: 1.5 } };
    },
  });
  series.push({
    type: 'custom', xAxisIndex: xG, yAxisIndex: yG, clip: false, silent: true, z: 6,
    data: G_SIG_FROM.map((a, i) => [a, G_SIG_Y[i]]),
    renderItem: (params: any, api: any) => {
      const k = params.dataIndex;
      const pa = api.coord([G_SIG_FROM[k], G_SIG_Y[k]]);
      const pb = api.coord([G_SIG_TO[k], G_SIG_Y[k]]);
      const x1 = pa[0] - 1, x2 = pb[0] - 3;
      const ns = G_SIG_TEXT[k] === 'ns';
      return {
        type: 'group', children: [
          { type: 'line', shape: { x1, y1: pa[1], x2, y2: pa[1] }, style: { stroke: '#000', lineWidth: 1.2 } },
          { type: 'text', x: (x1 + x2) / 2, y: pa[1] - (ns ? 6 : 3.5), style: { text: G_SIG_TEXT[k], fill: '#000', fontSize: ns ? 8 : 7, fontFamily: FONT, align: 'center', verticalAlign: 'middle' } },
        ],
      };
    },
  });

  /* ================= H ================= */
  const hLefts = [30.7, 161.7, 292.7];
  H_TITLES.forEach((title, k) => {
    const left = hLefts[k];
    const gi = addGrid(left, 946.7, 88.3, 104.3);
    const xi = addX(vAxis(gi, 0, 5, 1, 'Log Ab (ng/ml)', 15.5));
    const yi = addY(vAxis(gi, 0, 150, 50, 'Relative infectivity', 21));
    const sets: any[] = [
      [H_WT_FIT[k], H_WT[k], H_WT_ERR[k], RED, false],
      [H_WTF_FIT[k], H_WTF[k], H_WTF_ERR[k], RED, true],
      [H_K_FIT[k], H_K[k], H_K_ERR[k], BLUE, false],
      [H_KF_FIT[k], H_KF[k], H_KF_ERR[k], BLUE, true],
    ];
    sets.forEach(([fit, pts, err, col, open]) => {
      series.push(curve(xi, yi, FIT_XH, fit, col, open));
      series.push(points(xi, yi, DOSE_X, pts, err, col, open, 2.5));
    });
    graphic.push(T(left + 44, 940, title, 10));
  });
  H_LEGEND.forEach((name, i) => {
    legendLine(380, [961.7, 976.7, 991.7, 1007.3][i], 13, i < 2 ? RED : BLUE, i % 2 === 1, i % 2 === 1, 2.5, name, 8.5, 4);
  });

  /* ================= I ================= */
  const gI = addGrid(517.3, 946.7, 103.7, 105);
  const xI = addX(vAxis(gI, 0, 48, 12, 'Hours', 14, { nameSize: 9, lw: 1.5 }));
  const yI = addY(vAxis(gI, 1, 6, 1, '{a|Log}{s|10}{a| FFU/ml}', 14, { rich: logRich(10), lw: 1.5 }));
  const iSets: any[] = [[I_WT, I_WT_ERR, RED, false], [I_WTF, I_WTF_ERR, RED, true], [I_K, I_K_ERR, BLUE, false], [I_KF, I_KF_ERR, BLUE, true]];
  iSets.forEach(([vals, err, col, open]) => {
    series.push({
      type: 'line', xAxisIndex: xI, yAxisIndex: yI, data: I_HOURS.map((h, i) => [h, vals[i]]),
      symbol: 'none', silent: true, z: 3, lineStyle: { color: col, width: 1.5, type: open ? [4, 2] : 'solid' },
    });
    series.push(points(xI, yI, I_HOURS, vals, err, col, open, 2.7));
  });
  series.push({
    type: 'custom', xAxisIndex: xI, yAxisIndex: yI, clip: false, silent: true, z: 6,
    data: [0, 1, 2].flatMap((r) => I_HOURS.map((h) => [h, [6.03, 5.69, 5.27][r]])),
    renderItem: (params: any, api: any) => {
      const r = Math.floor(params.dataIndex / 4), c = params.dataIndex % 4;
      const p = api.coord([api.value(0), api.value(1)]);
      return {
        type: 'text', x: p[0] + (c < 2 ? 3.5 : 0), y: p[1],
        style: { text: I_SIG_ROWS[r][c], fill: r === 0 ? RED : BLUE, fontSize: 6.5, fontFamily: FONT, align: 'center', verticalAlign: 'middle' },
      };
    },
  });
  graphic.push(T(636, 938.3, 'WT std comparison with:', 6.3, { align: 'left' }));
  graphic.push(L(636, 941.8, 697, 941.8, '#000', 0.6));
  I_SIG_LABELS.forEach((t, i) => graphic.push(T(636, [946, 953.3, 962][i], t, 6.3, { align: 'left', color: i === 0 ? RED : BLUE })));
  I_LEGEND.forEach((name, i) => {
    legendLine(631.7, [987.3, 1000.7, 1015, 1029][i], 13.3, i < 2 ? RED : BLUE, i % 2 === 1, i % 2 === 1, 2.7, name, 8.5, 5);
  });

  /* ================= panel letters ================= */
  const letters: any[] = [['A', 2, 8], ['B', 0, 423], ['C', 0, 587], ['D', 0, 748], ['E', 156.5, 748], ['F', 352.7, 748], ['G', 534, 748], ['H', 0, 942], ['I', 491.7, 940]];
  letters.forEach(([t, x, y]) => graphic.push(T(x, y, t, 14, { align: 'left' })));

  return {
    animation: false,
    backgroundColor: '#ffffff',
    textStyle: { fontFamily: FONT },
    grid, xAxis, yAxis, series,
    graphic: { elements: graphic },
  };
}

export default function App() {
  const ref = useRef<HTMLDivElement>(null);
  useEffect(() => {
    document.body.style.margin = '0';
    const chart = echarts.init(ref.current as HTMLDivElement, null, { renderer: 'svg', width: 795, height: 1079 });
    chart.setOption(buildOption());
    return () => chart.dispose();
  }, []);
  return <div ref={ref} style={{ width: 795, height: 1079, background: '#fff' }} />;
}
